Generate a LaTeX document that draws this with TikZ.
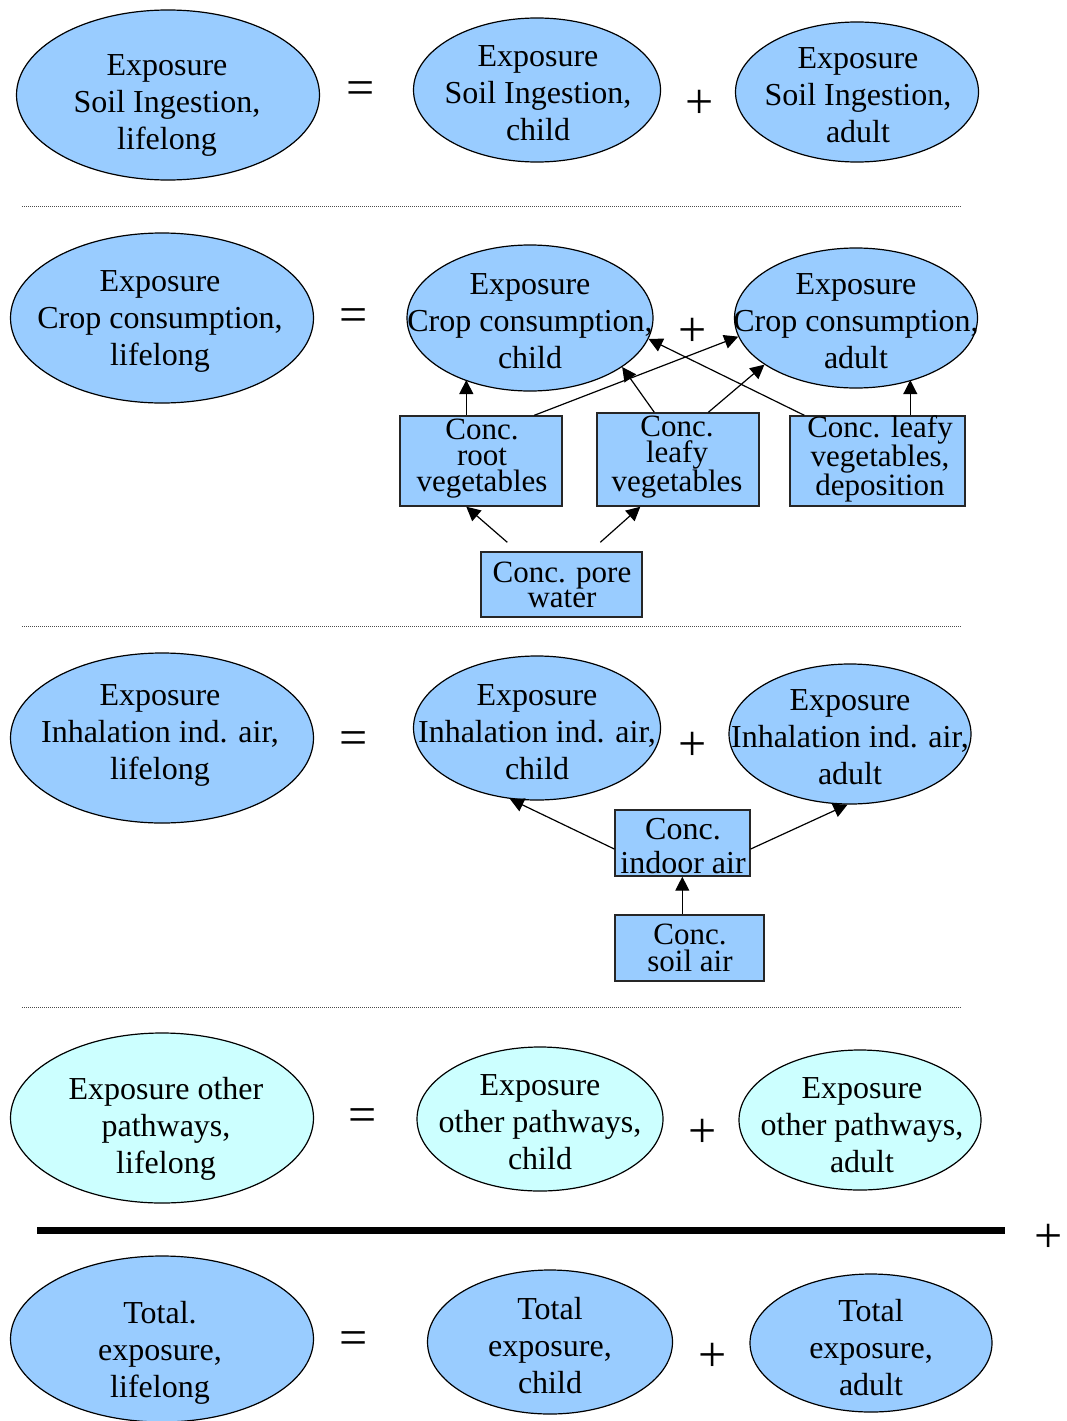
\documentclass[tikz,border=0pt]{standalone}
\usepackage{fontspec}
\setmainfont{Liberation Serif}
\usetikzlibrary{shapes.geometric,arrows.meta,calc}
\definecolor{bluef}{RGB}{153,204,255}
\definecolor{cyanf}{RGB}{204,255,255}
\begin{document}
\begin{tikzpicture}[x=1pt,y=-1pt,
  ell/.style={ellipse, draw=black, line width=1.2pt, fill=bluef, inner sep=0pt},
  cell/.style={ell, fill=cyanf},
  txt/.style={align=center, inner sep=0pt, font=\fontsize{32}{37}\selectfont},
  btxt/.style={align=center, inner sep=0pt},
  box/.style={draw=black!85, line width=1.4pt, fill=bluef, inner sep=0pt},
  op/.style={inner sep=0pt, font=\fontsize{50}{50}\selectfont},
  arr/.style={-{Triangle[length=14pt,width=14pt]}, line width=1.2pt},
  dotline/.style={black!70, line width=0.8pt, dash pattern=on 1pt off 1pt}]
\useasboundingbox (0,0) rectangle (1066,1421);

% ---------- row 1: soil ingestion
\node[ell, minimum width=303pt, minimum height=170pt] (A1) at (168,95) {};
\node[ell, minimum width=247pt, minimum height=144pt] (A2) at (537,90) {};
\node[ell, minimum width=243pt, minimum height=140pt] (A3) at (857,92) {};
\node[txt] (A1t) at (167,105) {Exposure\\Soil Ingestion,\\lifelong};
\node[txt] (A2t) at (538,93) {Exposure\\Soil Ingestion,\\child};
\node[txt] (A3t) at (858,95) {Exposure\\Soil Ingestion,\\adult};
\node[op] (eq1) at (361,93) {=};
\node[op] (pl1) at (700,104) {+};
\draw[dotline] (22,206) -- (962,206);

% ---------- row 2: crop consumption
\node[ell, minimum width=303pt, minimum height=170pt] (B1) at (162,318) {};
\node[ell, minimum width=246pt, minimum height=146pt] (B2) at (530,318) {};
\node[ell, minimum width=243pt, minimum height=140pt] (B3) at (856,318) {};
\node[txt] (B1t) at (160,321) {Exposure\\Crop consumption,\\lifelong};
\node[txt] (B2t) at (530,321) {Exposure\\Crop consumption,\\child};
\node[txt] (B3t) at (856,321) {Exposure\\Crop consumption,\\adult};
\node[op] (eq2) at (354,320) {=};
\node[op] (pl2) at (693,332) {+};

\node[box, minimum width=162pt, minimum height=90pt] (root) at (481,461) {};
\node[box, minimum width=162pt, minimum height=93pt] (leafy) at (678,459.5) {};
\node[box, minimum width=175pt, minimum height=90pt] (leafdep) at (877.5,461) {};
\node[box, minimum width=161pt, minimum height=65pt] (pore) at (561.5,584.5) {};
\node[btxt, font=\fontsize{31}{26}\selectfont] (roott) at (482,459) {Conc.\\root\\vegetables};
\node[btxt, font=\fontsize{31}{26}\selectfont] (leafyt) at (677,457) {Conc.\\leafy\\vegetables};
\node[btxt, font=\fontsize{31}{26}\selectfont] (leafdept) at (880,459) {Conc. leafy\\vegetables,\\deposition};
\node[btxt, font=\fontsize{31}{23}\selectfont] (poret) at (562,585) {Conc. pore\\water};

\coordinate (r1) at ([xshift=67pt]root.north west);
\coordinate (r2) at ([xshift=135pt]root.north west);
\coordinate (l1) at ([xshift=58pt]leafy.north west);
\coordinate (l2) at ([xshift=112pt]leafy.north west);
\coordinate (d1) at ([xshift=15pt]leafdep.north west);
\coordinate (d2) at ([xshift=121pt]leafdep.north west);
\coordinate (p1) at ([xshift=27pt,yshift=9pt]pore.north west);
\coordinate (p2) at ([xshift=120pt,yshift=9pt]pore.north west);
\draw[arr] (r1) -- (r1 |- B2.223);
\draw[arr] (r2) -- (B3.189);
\draw[arr] (l1) -- (B2.332);
\draw[arr] (l2) -- (B3.207);
\draw[arr] (d1) -- (B2.350);
\draw[arr] (d2) -- (d2 |- B3.313);
\draw[arr] (p1) -- ([xshift=67pt]root.south west);
\draw[arr] (p2) -- ([xshift=44pt]leafy.south west);
\draw[dotline] (22,626) -- (962,626);

% ---------- row 3: inhalation
\node[ell, minimum width=303pt, minimum height=170pt] (C1) at (162,738) {};
\node[ell, minimum width=247pt, minimum height=144pt] (C2) at (537,728) {};
\node[ell, minimum width=242pt, minimum height=140pt] (C3) at (850,734) {};
\node[txt] (C1t) at (160,735) {Exposure\\Inhalation ind. air,\\lifelong};
\node[txt] (C2t) at (537,732) {Exposure\\Inhalation ind. air,\\child};
\node[txt] (C3t) at (850,737) {Exposure\\Inhalation ind. air,\\adult};
\node[op] (eq3) at (354,743) {=};
\node[op] (pl3) at (693,746) {+};

\node[box, minimum width=135pt, minimum height=66pt] (indoor) at (682.5,843) {};
\node[box, minimum width=149pt, minimum height=66pt] (soil) at (689.5,948) {};
\node[btxt, font=\fontsize{32}{34}\selectfont] (indoort) at (683,846) {Conc.\\indoor air};
\node[btxt, font=\fontsize{31}{27}\selectfont] (soilt) at (690,948) {Conc.\\soil air};
\draw[arr] ([yshift=-6pt]indoor.west) -- (C2.249);
\draw[arr] ([yshift=-6pt]indoor.east) -- (C3.268);
\draw[arr] ([xshift=68pt]soil.north west) -- ([xshift=68pt]indoor.south west);
\draw[dotline] (22,1007) -- (962,1007);

% ---------- row 4: other pathways
\node[cell, minimum width=303pt, minimum height=170pt] (D1) at (162,1118) {};
\node[cell, minimum width=246pt, minimum height=144pt] (D2) at (540,1119) {};
\node[cell, minimum width=242pt, minimum height=140pt] (D3) at (860,1120) {};
\node[txt] (D1t) at (166,1129) {Exposure other\\pathways,\\lifelong};
\node[txt] (D2t) at (540,1122) {Exposure\\other pathways,\\child};
\node[txt] (D3t) at (862,1125) {Exposure\\other pathways,\\adult};
\node[op] (eq4) at (363,1120) {=};
\node[op] (pl4) at (703,1133) {+};

\draw[line width=7pt] (37,1230) -- (1005,1230);
\node[op] (plT) at (1049,1238) {+};

% ---------- row 5: total
\node[ell, minimum width=303pt, minimum height=166pt] (E1) at (162,1339) {};
\node[ell, minimum width=245pt, minimum height=144pt] (E2) at (550,1342) {};
\node[ell, minimum width=242pt, minimum height=138pt] (E3) at (871,1343) {};
\node[txt] (E1t) at (160,1353) {Total.\\exposure,\\lifelong};
\node[txt] (E2t) at (550,1346) {Total\\exposure,\\child};
\node[txt] (E3t) at (871,1348) {Total\\exposure,\\adult};
\node[op] (eq5) at (354,1343) {=};
\node[op] (pl5) at (713,1357) {+};
\end{tikzpicture}
\end{document}
